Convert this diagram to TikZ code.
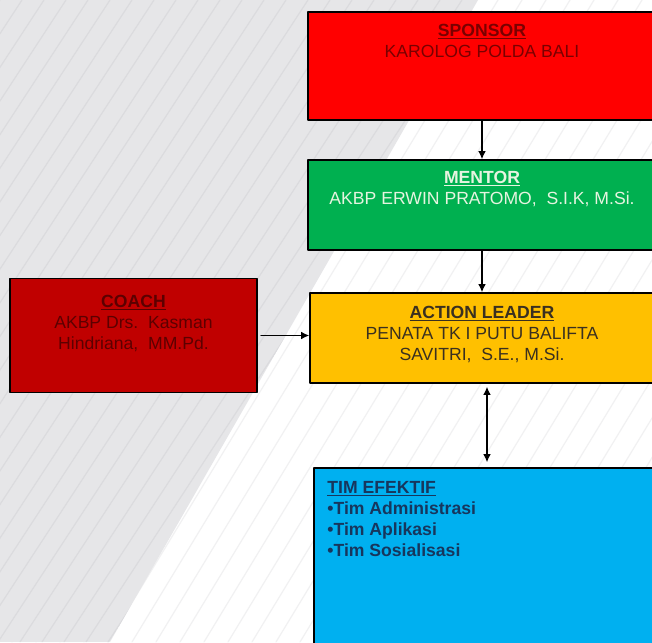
\documentclass[tikz,border=0pt]{standalone}
\usepackage{fontspec}
\setmainfont{Liberation Sans}
\usetikzlibrary{arrows.meta}
\definecolor{bgGrey}{HTML}{E6E6E8}
\definecolor{stripeDark}{HTML}{DBDBDE}
\definecolor{stripeLight}{HTML}{F1F1F2}
\definecolor{sponsorRed}{HTML}{FF0000}
\definecolor{sponsorInk}{HTML}{7A0000}
\definecolor{mentorGreen}{HTML}{00B050}
\definecolor{mentorInk}{HTML}{E6F4E0}
\definecolor{coachRed}{HTML}{C00000}
\definecolor{coachInk}{HTML}{5C0000}
\definecolor{leaderGold}{HTML}{FFC000}
\definecolor{leaderInk}{HTML}{3A3020}
\definecolor{timBlue}{HTML}{00B0F0}
\definecolor{timInk}{HTML}{17365D}

\begin{document}
\begin{tikzpicture}[
  x=1pt, y=-1pt,
  font=\fontsize{17.6}{21}\selectfont,
  line cap=round, line join=round,
  >={Latex[length=8pt,width=7.5pt]},
  box/.style={draw=black, line width=1.6pt, rectangle, inner sep=0pt},
  box text/.style={inner sep=0pt, align=center},
  link/.style={draw=black, line width=1.1pt}
]
\useasboundingbox (0,0) rectangle (652,642);
\clip (0,0) rectangle (652,642);

% Background: white half with faint stripes, grey wedge on the left.
\fill[white] (0,0) rectangle (652,642);
\foreach \i in {-420,-396,...,660}
  \draw[stripeLight, line width=1.2pt] (\i,642) -- (\i+390,0);
\begin{scope}
  \clip (0,0) -- (478,0) -- (110,642) -- (0,642) -- cycle;
  \fill[bgGrey] (0,0) rectangle (652,642);
  \foreach \i in {-420,-398,...,660}
    \draw[stripeDark, line width=1.2pt] (\i,642) -- (\i+420,0);
\end{scope}

% Chain of roles down the right side.
\node[box, fill=sponsorRed, minimum width=348pt, minimum height=108pt]
  (sponsor) at (482,66) {};
\node[box text, text=sponsorInk, anchor=north] (sponsortxt)
  at ([yshift=-13pt]sponsor.north)
  {\underline{\textbf{SPONSOR}}\\KAROLOG POLDA BALI};

\node[box, fill=mentorGreen, minimum width=348pt, minimum height=90pt]
  (mentor) at (482,205) {};
\node[box text, text=mentorInk, anchor=north] (mentortxt)
  at ([yshift=-12pt]mentor.north)
  {\underline{\textbf{MENTOR}}\\AKBP ERWIN PRATOMO,\ \ S.I.K, M.Si.};

\node[box, fill=leaderGold, minimum width=344pt, minimum height=90pt]
  (leader) at (482,338) {};
\node[box text, text=leaderInk, anchor=north] (leadertxt)
  at ([yshift=-14pt]leader.north)
  {\underline{\textbf{ACTION LEADER}}\\PENATA TK I PUTU BALIFTA\\SAVITRI,\ \ S.E., M.Si.};

\node[box, fill=coachRed, minimum width=247pt, minimum height=114pt]
  (coach) at (133.5,335.5) {};
\node[box text, text=coachInk, anchor=north] (coachtxt)
  at ([yshift=-17pt]coach.north)
  {\underline{\textbf{COACH}}\\AKBP Drs.\ \ Kasman\\Hindriana,\ \ MM.Pd.};

\node[box, fill=timBlue, minimum width=346pt, minimum height=200pt]
  (tim) at (487,568) {};
\node[box text, text=timInk, align=left, anchor=north west, font=\fontsize{17.6}{21}\selectfont\bfseries]
  (timtxt) at ([xshift=14pt,yshift=-14pt]tim.north west)
  {\underline{TIM EFEKTIF}\\\textbullet Tim Administrasi\\\textbullet Tim Aplikasi\\\textbullet Tim Sosialisasi};

% Connectors.
\draw[link, ->] (sponsor.south) -- (mentor.north);
\draw[link, ->] (mentor.south) -- (leader.north);
\draw[link, ->, shorten <=3pt] (coach.east) -- (coach.east -| leader.west);
\draw[link, <->, shorten <=5pt, shorten >=3pt]
  (tim.north) -- (tim.north |- leader.south);
\end{tikzpicture}
\end{document}
